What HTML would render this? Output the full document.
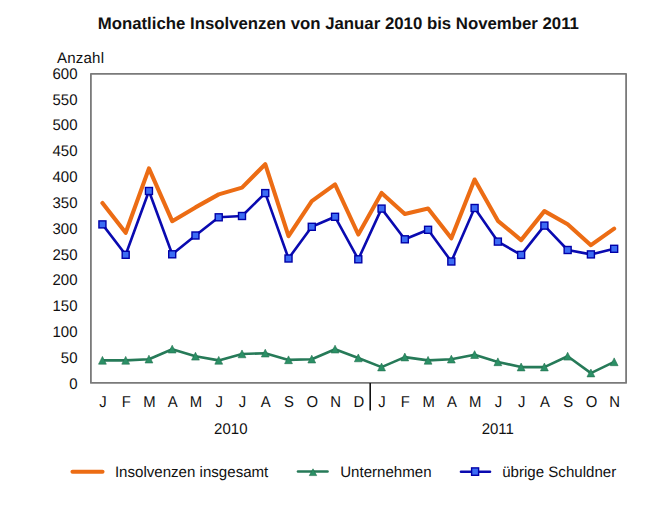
<!DOCTYPE html>
<html><head><meta charset="utf-8"><style>
html,body{margin:0;padding:0;background:#fff;}
body{width:668px;height:521px;overflow:hidden;}
svg{display:block;}
text{text-rendering:geometricPrecision;}
.t{font-family:"Liberation Sans",sans-serif;font-size:15px;fill:#111;}
.m{font-family:"Liberation Sans",sans-serif;font-size:16px;fill:#111;}
.b{font-family:"Liberation Sans",sans-serif;font-size:16.8px;font-weight:bold;fill:#111;}
</style></head><body>
<svg width="668" height="521" viewBox="0 0 668 521">
<rect x="90.9" y="73.8" width="535.2" height="309.09999999999997" fill="none" stroke="#7a7a7a" stroke-width="1.8" stroke-linejoin="round"/>
<line x1="370.2" y1="382.9" x2="370.2" y2="410.6" stroke="#111" stroke-width="1.6"/>
<polyline points="102.43,203.00 125.69,232.80 148.95,168.40 172.21,221.20 195.47,207.40 218.73,194.40 242.00,187.60 265.26,164.20 288.52,236.20 311.78,201.10 335.04,184.40 358.30,234.50 381.56,192.90 404.82,213.90 428.08,208.60 451.34,238.30 474.60,179.50 497.87,220.80 521.13,240.10 544.39,211.10 567.65,224.30 590.91,245.20 614.17,228.60" fill="none" stroke="#ec6c14" stroke-width="4.1" stroke-linejoin="round" stroke-linecap="round"/>
<polyline points="102.43,224.40 125.69,254.80 148.95,191.00 172.21,254.30 195.47,235.50 218.73,217.30 242.00,216.00 265.26,193.10 288.52,258.50 311.78,226.80 335.04,216.80 358.30,259.30 381.56,208.60 404.82,239.30 428.08,229.80 451.34,261.50 474.60,208.00 497.87,241.60 521.13,254.90 544.39,225.60 567.65,250.00 590.91,254.40 614.17,248.80" fill="none" stroke="#0a0ab0" stroke-width="2.6" stroke-linejoin="round"/>
<rect x="98.93" y="220.90" width="7" height="7" fill="#3c6cf4" stroke="#0000a8" stroke-width="1.4"/>
<rect x="122.19" y="251.30" width="7" height="7" fill="#3c6cf4" stroke="#0000a8" stroke-width="1.4"/>
<rect x="145.45" y="187.50" width="7" height="7" fill="#3c6cf4" stroke="#0000a8" stroke-width="1.4"/>
<rect x="168.71" y="250.80" width="7" height="7" fill="#3c6cf4" stroke="#0000a8" stroke-width="1.4"/>
<rect x="191.97" y="232.00" width="7" height="7" fill="#3c6cf4" stroke="#0000a8" stroke-width="1.4"/>
<rect x="215.23" y="213.80" width="7" height="7" fill="#3c6cf4" stroke="#0000a8" stroke-width="1.4"/>
<rect x="238.50" y="212.50" width="7" height="7" fill="#3c6cf4" stroke="#0000a8" stroke-width="1.4"/>
<rect x="261.76" y="189.60" width="7" height="7" fill="#3c6cf4" stroke="#0000a8" stroke-width="1.4"/>
<rect x="285.02" y="255.00" width="7" height="7" fill="#3c6cf4" stroke="#0000a8" stroke-width="1.4"/>
<rect x="308.28" y="223.30" width="7" height="7" fill="#3c6cf4" stroke="#0000a8" stroke-width="1.4"/>
<rect x="331.54" y="213.30" width="7" height="7" fill="#3c6cf4" stroke="#0000a8" stroke-width="1.4"/>
<rect x="354.80" y="255.80" width="7" height="7" fill="#3c6cf4" stroke="#0000a8" stroke-width="1.4"/>
<rect x="378.06" y="205.10" width="7" height="7" fill="#3c6cf4" stroke="#0000a8" stroke-width="1.4"/>
<rect x="401.32" y="235.80" width="7" height="7" fill="#3c6cf4" stroke="#0000a8" stroke-width="1.4"/>
<rect x="424.58" y="226.30" width="7" height="7" fill="#3c6cf4" stroke="#0000a8" stroke-width="1.4"/>
<rect x="447.84" y="258.00" width="7" height="7" fill="#3c6cf4" stroke="#0000a8" stroke-width="1.4"/>
<rect x="471.10" y="204.50" width="7" height="7" fill="#3c6cf4" stroke="#0000a8" stroke-width="1.4"/>
<rect x="494.37" y="238.10" width="7" height="7" fill="#3c6cf4" stroke="#0000a8" stroke-width="1.4"/>
<rect x="517.63" y="251.40" width="7" height="7" fill="#3c6cf4" stroke="#0000a8" stroke-width="1.4"/>
<rect x="540.89" y="222.10" width="7" height="7" fill="#3c6cf4" stroke="#0000a8" stroke-width="1.4"/>
<rect x="564.15" y="246.50" width="7" height="7" fill="#3c6cf4" stroke="#0000a8" stroke-width="1.4"/>
<rect x="587.41" y="250.90" width="7" height="7" fill="#3c6cf4" stroke="#0000a8" stroke-width="1.4"/>
<rect x="610.67" y="245.30" width="7" height="7" fill="#3c6cf4" stroke="#0000a8" stroke-width="1.4"/>
<polyline points="102.43,360.40 125.69,360.40 148.95,359.20 172.21,349.20 195.47,356.30 218.73,360.40 242.00,354.00 265.26,353.20 288.52,359.90 311.78,359.20 335.04,349.20 358.30,358.00 381.56,367.10 404.82,357.10 428.08,360.40 451.34,359.20 474.60,354.70 497.87,361.90 521.13,367.10 544.39,367.10 567.65,356.30 590.91,373.10 614.17,361.90" fill="none" stroke="#267a58" stroke-width="2.6" stroke-linejoin="round"/>
<path d="M102.43,356.38 L106.33,364.18 L98.53,364.18Z" fill="#2b9066" stroke="#21704f" stroke-width="0.6" stroke-linejoin="round"/>
<path d="M125.69,356.38 L129.59,364.18 L121.79,364.18Z" fill="#2b9066" stroke="#21704f" stroke-width="0.6" stroke-linejoin="round"/>
<path d="M148.95,355.18 L152.85,362.98 L145.05,362.98Z" fill="#2b9066" stroke="#21704f" stroke-width="0.6" stroke-linejoin="round"/>
<path d="M172.21,345.18 L176.11,352.98 L168.31,352.98Z" fill="#2b9066" stroke="#21704f" stroke-width="0.6" stroke-linejoin="round"/>
<path d="M195.47,352.28 L199.37,360.08 L191.57,360.08Z" fill="#2b9066" stroke="#21704f" stroke-width="0.6" stroke-linejoin="round"/>
<path d="M218.73,356.38 L222.63,364.18 L214.83,364.18Z" fill="#2b9066" stroke="#21704f" stroke-width="0.6" stroke-linejoin="round"/>
<path d="M242.00,349.98 L245.90,357.78 L238.10,357.78Z" fill="#2b9066" stroke="#21704f" stroke-width="0.6" stroke-linejoin="round"/>
<path d="M265.26,349.18 L269.16,356.98 L261.36,356.98Z" fill="#2b9066" stroke="#21704f" stroke-width="0.6" stroke-linejoin="round"/>
<path d="M288.52,355.88 L292.42,363.68 L284.62,363.68Z" fill="#2b9066" stroke="#21704f" stroke-width="0.6" stroke-linejoin="round"/>
<path d="M311.78,355.18 L315.68,362.98 L307.88,362.98Z" fill="#2b9066" stroke="#21704f" stroke-width="0.6" stroke-linejoin="round"/>
<path d="M335.04,345.18 L338.94,352.98 L331.14,352.98Z" fill="#2b9066" stroke="#21704f" stroke-width="0.6" stroke-linejoin="round"/>
<path d="M358.30,353.98 L362.20,361.78 L354.40,361.78Z" fill="#2b9066" stroke="#21704f" stroke-width="0.6" stroke-linejoin="round"/>
<path d="M381.56,363.08 L385.46,370.88 L377.66,370.88Z" fill="#2b9066" stroke="#21704f" stroke-width="0.6" stroke-linejoin="round"/>
<path d="M404.82,353.08 L408.72,360.88 L400.92,360.88Z" fill="#2b9066" stroke="#21704f" stroke-width="0.6" stroke-linejoin="round"/>
<path d="M428.08,356.38 L431.98,364.18 L424.18,364.18Z" fill="#2b9066" stroke="#21704f" stroke-width="0.6" stroke-linejoin="round"/>
<path d="M451.34,355.18 L455.24,362.98 L447.44,362.98Z" fill="#2b9066" stroke="#21704f" stroke-width="0.6" stroke-linejoin="round"/>
<path d="M474.60,350.68 L478.50,358.48 L470.70,358.48Z" fill="#2b9066" stroke="#21704f" stroke-width="0.6" stroke-linejoin="round"/>
<path d="M497.87,357.88 L501.77,365.68 L493.97,365.68Z" fill="#2b9066" stroke="#21704f" stroke-width="0.6" stroke-linejoin="round"/>
<path d="M521.13,363.08 L525.03,370.88 L517.23,370.88Z" fill="#2b9066" stroke="#21704f" stroke-width="0.6" stroke-linejoin="round"/>
<path d="M544.39,363.08 L548.29,370.88 L540.49,370.88Z" fill="#2b9066" stroke="#21704f" stroke-width="0.6" stroke-linejoin="round"/>
<path d="M567.65,352.28 L571.55,360.08 L563.75,360.08Z" fill="#2b9066" stroke="#21704f" stroke-width="0.6" stroke-linejoin="round"/>
<path d="M590.91,369.08 L594.81,376.88 L587.01,376.88Z" fill="#2b9066" stroke="#21704f" stroke-width="0.6" stroke-linejoin="round"/>
<path d="M614.17,357.88 L618.07,365.68 L610.27,365.68Z" fill="#2b9066" stroke="#21704f" stroke-width="0.6" stroke-linejoin="round"/>
<text transform="translate(77.50,388.60) scale(0.975,1)" text-anchor="end" class="t" style="font-size:15.4px">0</text>
<text transform="translate(77.50,362.78) scale(0.975,1)" text-anchor="end" class="t" style="font-size:15.4px">50</text>
<text transform="translate(77.50,336.96) scale(0.975,1)" text-anchor="end" class="t" style="font-size:15.4px">100</text>
<text transform="translate(77.50,311.14) scale(0.975,1)" text-anchor="end" class="t" style="font-size:15.4px">150</text>
<text transform="translate(77.50,285.32) scale(0.975,1)" text-anchor="end" class="t" style="font-size:15.4px">200</text>
<text transform="translate(77.50,259.50) scale(0.975,1)" text-anchor="end" class="t" style="font-size:15.4px">250</text>
<text transform="translate(77.50,233.68) scale(0.975,1)" text-anchor="end" class="t" style="font-size:15.4px">300</text>
<text transform="translate(77.50,207.86) scale(0.975,1)" text-anchor="end" class="t" style="font-size:15.4px">350</text>
<text transform="translate(77.50,182.04) scale(0.975,1)" text-anchor="end" class="t" style="font-size:15.4px">400</text>
<text transform="translate(77.50,156.22) scale(0.975,1)" text-anchor="end" class="t" style="font-size:15.4px">450</text>
<text transform="translate(77.50,130.40) scale(0.975,1)" text-anchor="end" class="t" style="font-size:15.4px">500</text>
<text transform="translate(77.50,104.58) scale(0.975,1)" text-anchor="end" class="t" style="font-size:15.4px">550</text>
<text transform="translate(77.50,78.76) scale(0.975,1)" text-anchor="end" class="t" style="font-size:15.4px">600</text>
<text transform="translate(56.90,62.80) scale(0.993,1)" class="t" style="font-size:15.2px" letter-spacing="0.2">Anzahl</text>
<text transform="translate(102.93,407.00) scale(0.94,1)" text-anchor="middle" class="t" style="font-size:15.8px">J</text>
<text transform="translate(126.19,407.00) scale(0.94,1)" text-anchor="middle" class="t" style="font-size:15.8px">F</text>
<text transform="translate(149.45,407.00) scale(0.94,1)" text-anchor="middle" class="t" style="font-size:15.8px">M</text>
<text transform="translate(172.71,407.00) scale(0.94,1)" text-anchor="middle" class="t" style="font-size:15.8px">A</text>
<text transform="translate(195.97,407.00) scale(0.94,1)" text-anchor="middle" class="t" style="font-size:15.8px">M</text>
<text transform="translate(219.23,407.00) scale(0.94,1)" text-anchor="middle" class="t" style="font-size:15.8px">J</text>
<text transform="translate(242.50,407.00) scale(0.94,1)" text-anchor="middle" class="t" style="font-size:15.8px">J</text>
<text transform="translate(265.76,407.00) scale(0.94,1)" text-anchor="middle" class="t" style="font-size:15.8px">A</text>
<text transform="translate(289.02,407.00) scale(0.94,1)" text-anchor="middle" class="t" style="font-size:15.8px">S</text>
<text transform="translate(312.28,407.00) scale(0.94,1)" text-anchor="middle" class="t" style="font-size:15.8px">O</text>
<text transform="translate(335.54,407.00) scale(0.94,1)" text-anchor="middle" class="t" style="font-size:15.8px">N</text>
<text transform="translate(358.80,407.00) scale(0.94,1)" text-anchor="middle" class="t" style="font-size:15.8px">D</text>
<text transform="translate(382.06,407.00) scale(0.94,1)" text-anchor="middle" class="t" style="font-size:15.8px">J</text>
<text transform="translate(405.32,407.00) scale(0.94,1)" text-anchor="middle" class="t" style="font-size:15.8px">F</text>
<text transform="translate(428.58,407.00) scale(0.94,1)" text-anchor="middle" class="t" style="font-size:15.8px">M</text>
<text transform="translate(451.84,407.00) scale(0.94,1)" text-anchor="middle" class="t" style="font-size:15.8px">A</text>
<text transform="translate(475.10,407.00) scale(0.94,1)" text-anchor="middle" class="t" style="font-size:15.8px">M</text>
<text transform="translate(498.37,407.00) scale(0.94,1)" text-anchor="middle" class="t" style="font-size:15.8px">J</text>
<text transform="translate(521.63,407.00) scale(0.94,1)" text-anchor="middle" class="t" style="font-size:15.8px">J</text>
<text transform="translate(544.89,407.00) scale(0.94,1)" text-anchor="middle" class="t" style="font-size:15.8px">A</text>
<text transform="translate(568.15,407.00) scale(0.94,1)" text-anchor="middle" class="t" style="font-size:15.8px">S</text>
<text transform="translate(591.41,407.00) scale(0.94,1)" text-anchor="middle" class="t" style="font-size:15.8px">O</text>
<text transform="translate(614.67,407.00) scale(0.94,1)" text-anchor="middle" class="t" style="font-size:15.8px">N</text>
<text transform="translate(230.80,433.90) scale(0.975,1)" text-anchor="middle" class="t" style="font-size:15.4px">2010</text>
<text transform="translate(497.80,433.90) scale(0.975,1)" text-anchor="middle" class="t" style="font-size:15.4px">2011</text>
<text transform="translate(338.30,28.80)" text-anchor="middle" class="b" style="font-size:16.8px">Monatliche Insolvenzen von Januar 2010 bis November 2011</text>
<line x1="72.5" y1="471.7" x2="102.5" y2="471.7" stroke="#ec6c14" stroke-width="4.1" stroke-linecap="round"/>
<text transform="translate(114.90,476.60) scale(0.993,1)" class="t" style="font-size:15.2px">Insolvenzen insgesamt</text>
<line x1="298" y1="471.5" x2="327.5" y2="471.5" stroke="#267a58" stroke-width="2.6" stroke-linecap="round"/>
<path d="M313.00,468.80 L316.70,475.60 L309.30,475.60Z" fill="#2b9066" stroke="#21704f" stroke-width="0.6" stroke-linejoin="round"/>
<text transform="translate(340.20,476.60) scale(0.993,1)" class="t" style="font-size:15.2px">Unternehmen</text>
<line x1="461" y1="471.7" x2="490" y2="471.7" stroke="#0a0ab0" stroke-width="2.6" stroke-linecap="round"/>
<rect x="471.6" y="467.9" width="7" height="7.4" fill="#3c6cf4" stroke="#0000a8" stroke-width="1.4"/>
<text transform="translate(502.20,476.60) scale(0.993,1)" class="t" style="font-size:15.2px">übrige Schuldner</text>
</svg>
</body></html>
